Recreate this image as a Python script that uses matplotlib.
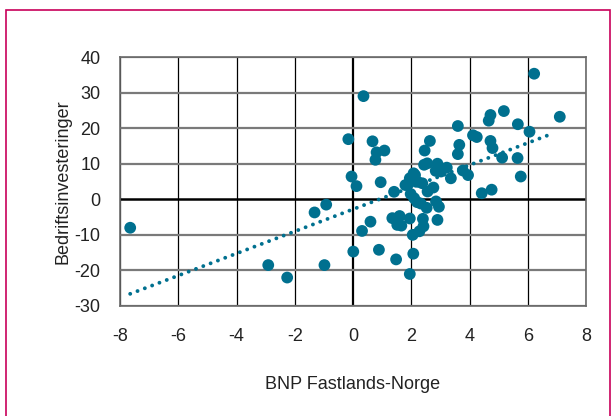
import numpy as np
import matplotlib
matplotlib.use("Agg")
import matplotlib.pyplot as plt
from matplotlib.patches import Rectangle

plt.rcParams['font.family'] = ['Liberation Sans', 'DejaVu Sans']
plt.rcParams['axes.unicode_minus'] = False

# values
bnp = [-7.65, -2.91, -2.26, -0.98, -1.32, -0.92, -0.16, 0.36, -0.05, 0.12,
       0.01, 0.31, 0.60, 0.67, 0.81, 1.08, 0.77, 0.95, 0.89, 1.48,
       1.41, 1.35, 1.60, 1.52, 1.66, 1.95, 1.95, 2.07, 2.05, 2.28,
       2.40, 2.42, 2.53, 2.90, 2.95, 2.85, 1.80, 1.95, 2.08, 1.98,
       2.10, 2.20, 2.33, 2.22, 2.38, 1.92, 2.13, 2.56, 2.76, 2.44,
       2.55, 2.46, 2.64, 2.90, 2.84, 3.02, 3.22, 3.36, 3.60, 3.65,
       3.60, 3.77, 3.95, 4.12, 4.25, 4.42, 4.76, 4.66, 4.72, 4.72,
       4.79, 5.18, 5.12, 5.66, 5.65, 5.76, 6.06, 6.22, 7.10]
inv = [-8.0, -18.5, -22.0, -18.5, -3.7, -1.5, 16.9, 29.0, 6.4, 3.7,
       -14.7, -8.9, -6.3, 16.3, 13.2, 13.7, 11.1, 4.8, -14.2, -16.9,
       2.1, -5.3, -4.7, -7.2, -7.4, -5.4, -21.0, -15.3, -10.0, -9.0,
       -5.5, -7.6, -2.4, -5.8, -2.1, -0.6, 4.0, 5.9, 7.3, 1.5,
       0.3, -0.8, -1.2, 4.9, 4.5, 4.5, 6.8, 2.2, 3.3, 9.7,
       10.1, 13.7, 16.4, 10.0, 8.0, 7.8, 8.9, 5.9, 20.6, 15.3,
       12.7, 8.1, 6.8, 18.0, 17.5, 1.7, 2.7, 22.1, 23.7, 16.4,
       14.4, 24.8, 11.7, 21.1, 11.6, 6.4, 19.0, 35.3, 23.2]

x_ticks = [-8, -6, -4, -2, 0, 2, 4, 6, 8]
y_ticks = [-30, -20, -10, 0, 10, 20, 30, 40]

dot_color = "#00708f"

fig = plt.figure(figsize=(6.16, 4.16), dpi=100)
ax = fig.add_axes([120 / 616, 1 - 306 / 416, 466 / 616, 249 / 416])

# pink frame round the figure (bottom edge falls outside the picture)
fig.patches.append(Rectangle((6 / 616, -0.05), 604 / 616, 1 - 10 / 416 + 0.05,
                             transform=fig.transFigure, fill=False,
                             edgecolor="#c8005a", linewidth=1.2))

# grid
for xv in x_ticks:
    ax.axvline(xv, color="black", linewidth=1.6 if xv == 0 else 0.9, zorder=1)
for yv in y_ticks:
    if yv == 0:
        ax.axhline(yv, color="black", linewidth=1.8, zorder=1)
    else:
        ax.axhline(yv, color="#7a7a7a", linewidth=1.6, zorder=1)

# trend line
k, m = np.polyfit(bnp, inv, 1)
xt = np.array([min(bnp), 6.9])
ax.plot(xt, k * xt + m, color=dot_color, linewidth=2.8,
        linestyle=(0, (0.01, 2.0)), dash_capstyle="round", zorder=2)

ax.scatter(bnp, inv, s=72, color=dot_color, edgecolors="none", zorder=3)

ax.set_xlim(-8, 8)
ax.set_ylim(-30, 40)
ax.set_xticks(x_ticks)
ax.set_yticks(y_ticks)
ax.tick_params(length=0, labelsize=13, colors="#222222")
ax.tick_params(axis="x", pad=16)
ax.tick_params(axis="y", pad=14)
for s in ax.spines.values():
    s.set_color("#6a6a6a")
    s.set_linewidth(1.2)

ax.set_xlabel("BNP Fastlands-Norge", fontsize=13, color="#222222", labelpad=22)
ax.set_ylabel("Bedriftsinvesteringer", fontsize=13, color="#222222", labelpad=2)

fig.savefig("out.png", dpi=100)
